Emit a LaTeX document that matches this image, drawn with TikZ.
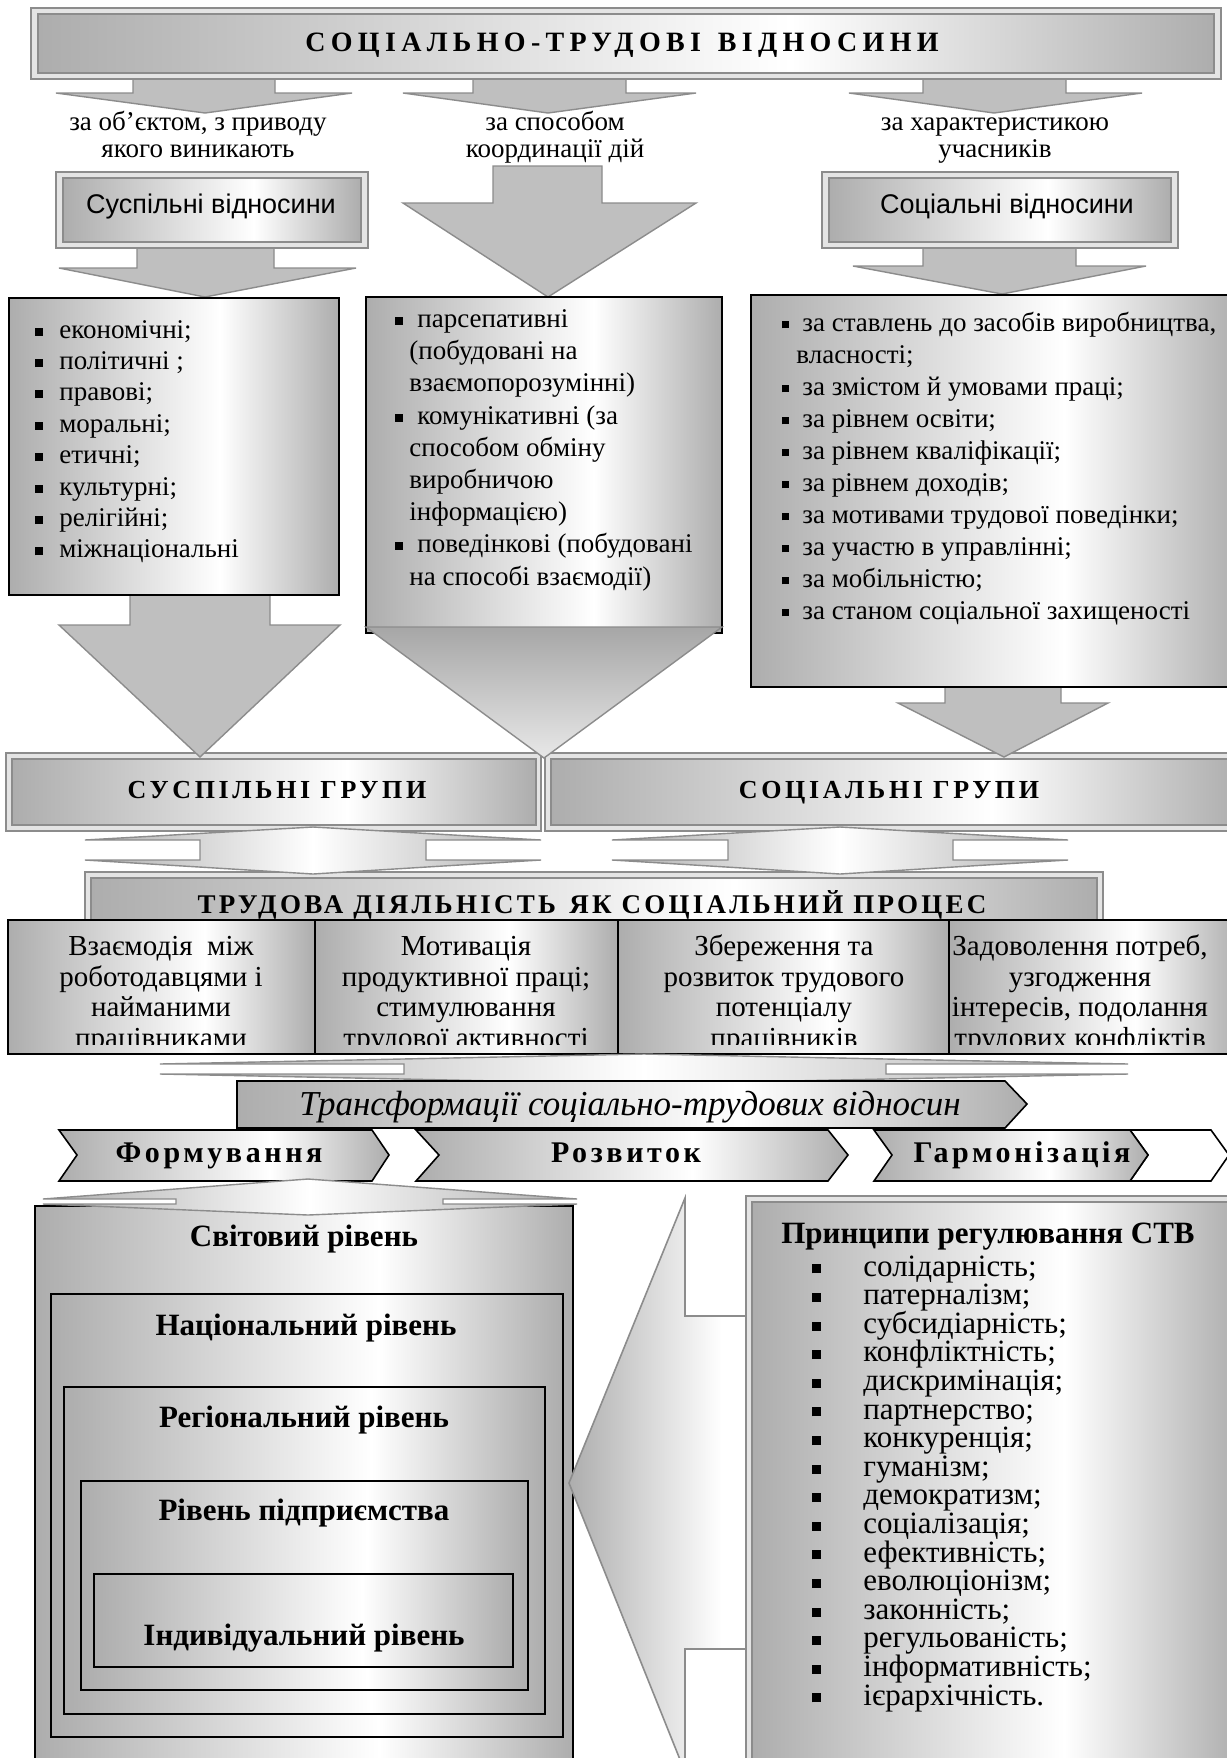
\documentclass[tikz,border=0pt]{standalone}
\usepackage{fontspec}
\setmainfont{Liberation Serif}
\newfontfamily\sansf{Liberation Sans}
\newfontfamily\trkA[LetterSpace=19]{Liberation Serif}
\newfontfamily\trkB[LetterSpace=14]{Liberation Serif}
\newfontfamily\trkC[LetterSpace=12]{Liberation Serif}
\newfontfamily\trkD[LetterSpace=12]{Liberation Serif}
\newcommand\fsz[1]{\fontsize{#1}{#1}\selectfont}
\newcommand\blt[3]{\llap{\rule[#3]{#1}{#1}\hspace{#2}}}
\definecolor{gfill}{HTML}{BFBFBF}
\definecolor{gline}{HTML}{8C8C8C}
\definecolor{gsh}{HTML}{ADADAD}
\definecolor{gband}{HTML}{E4E4E4}
\definecolor{gdark}{HTML}{A6A6A6}
\definecolor{glight}{HTML}{E8E8E8}
\pgfdeclarehorizontalshading{hs}{100bp}{color(0bp)=(gsh); color(25bp)=(gsh); color(57bp)=(white); color(75bp)=(gsh); color(100bp)=(gsh)}
\pgfdeclarehorizontalshading{hsc}{100bp}{color(0bp)=(gsh); color(25bp)=(gsh); color(50bp)=(white); color(75bp)=(gsh); color(100bp)=(gsh)}
\pgfdeclarehorizontalshading{hlr}{100bp}{color(0bp)=(gsh); color(25bp)=(gsh); color(65bp)=(white); color(75bp)=(white); color(100bp)=(white)}
\pgfdeclareverticalshading{vsh}{100bp}{color(0bp)=(glight); color(25bp)=(glight); color(75bp)=(gdark); color(100bp)=(gdark)}
\begin{document}
\begin{tikzpicture}[x=0.5pt,y=-0.5pt,
  txt/.style={inner sep=0pt},
  arr/.style={fill=gfill,draw=gline,line width=0.7pt},
  fro/.style={fill=gband,draw=gline,line width=0.7pt},
  fri/.style={shade,shading=hs,draw=gline,line width=0.7pt},
  bbox/.style={shade,shading=hs,draw=black,line width=1pt},
  dbl/.style={shade,shading=hsc,draw=gline,line width=0.7pt},
  chev/.style={shade,shading=hs,draw=black,line width=0.8pt},
  lab/.style={txt,font=\fsz{13.5},anchor=base},
  lst/.style={txt,font=\fsz{13.5},anchor=base west},
  grp/.style={txt,font=\trkB\bfseries\fsz{13},anchor=base},
  chv/.style={txt,font=\trkD\bfseries\fsz{15},anchor=base},
  lv/.style={txt,font=\bfseries\fsz{15.5},anchor=base},
  pr/.style={txt,font=\fsz{15.5},anchor=base west}]
\useasboundingbox (0,0) rectangle (1227,1758);
\clip (0,0) rectangle (1227,1758);
\fill[white] (0,0) rectangle (1227,1758);

% ---------- top arrows
\draw[arr] (133,72) -- (275,72) -- (275,93) -- (352,93) -- (205,113) -- (56,93) -- (133,93) -- cycle;
\draw[arr] (473,72) -- (626,72) -- (626,93) -- (696,93) -- (548,113) -- (403,93) -- (473,93) -- cycle;
\draw[arr] (923,72) -- (1066,72) -- (1066,93) -- (1142,93) -- (994,113) -- (849,93) -- (923,93) -- cycle;

% ---------- banner
\draw[fro] (31,8) rectangle (1221,79);
\draw[fri] (38,14) rectangle (1214,73);
\node[txt,font=\trkA\bfseries\fsz{14},anchor=base] (title) at (622,51) {СОЦІАЛЬНО-ТРУДОВІ\hspace{0.6em}ВІДНОСИНИ};

% ---------- labels
\node[lab] (la1) at (198,130) {за об’єктом, з приводу};
\node[lab] (la2) at (198,157) {якого виникають};
\node[lab] (lb1) at (555,130) {за способом};
\node[lab] (lb2) at (555,157) {координації дій};
\node[lab] (lc1) at (995,130) {за характеристикою};
\node[lab] (lc2) at (995,157) {учасників};

% ---------- second arrows and sans boxes
\draw[arr] (137,240) -- (274,240) -- (274,268) -- (356,268) -- (205,297) -- (59,268) -- (137,268) -- cycle;
\draw[arr] (493,166) -- (602,166) -- (602,203) -- (696,203) -- (548,297) -- (403,203) -- (493,203) -- cycle;
\draw[arr] (923,240) -- (1076,240) -- (1076,266) -- (1146,266) -- (1002,294) -- (853,266) -- (923,266) -- cycle;
\draw[fro] (56,172) rectangle (368,248);
\draw[fri] (63,178) rectangle (361,242);
\node[txt,font=\sansf\fsz{13.5},anchor=base] (sv) at (211,213) {Суспільні відносини};
\draw[fro] (822,172) rectangle (1178,248);
\draw[fri] (829,178) rectangle (1171,242);
\node[txt,font=\sansf\fsz{13.5},anchor=base] (sov) at (1007,213) {Соціальні відносини};

% ---------- groups frames
\draw[fro] (6,753) rectangle (541,831);
\draw[fri] (12,759) rectangle (536,825);
\draw[fro] (545,753) rectangle (1240,831);
\draw[fri] (551,759) rectangle (1240,825);
\node[grp] (sg) at (277,798) {СУСПІЛЬНІ ГРУПИ};
\node[grp] (socg) at (889,798) {СОЦІАЛЬНІ ГРУПИ};

% ---------- arrows to groups
\draw[arr] (130,590) -- (270,590) -- (270,625) -- (340,625) -- (200,757) -- (59,625) -- (130,625) -- cycle;
\draw[arr] (945,682) -- (1061,682) -- (1061,703) -- (1108,703) -- (1004,757) -- (898,703) -- (945,703) -- cycle;

% ---------- list boxes
\draw[bbox] (9,298) rectangle (339,595);
\draw[bbox] (366,297) rectangle (722,633);
\draw[bbox] (751,295) rectangle (1240,687);
\draw[shade,shading=vsh,draw=gline,line width=0.7pt] (366,627) -- (722,627) -- (544,758) -- cycle;

\foreach \t [count=\i from 0] in {економічні;,політичні ;,правові;,моральні;,етичні;,культурні;,релігійні;,міжнаціональні}
  \node[lst] (ll\i) at (59,{338+31.4*\i}) {\blt{4pt}{8pt}{1.2pt}\t};

\node[lst] (m1) at (417,327) {\blt{4pt}{7pt}{1.2pt}парсепативні};
\node[lst] (m2) at (409,359) {(побудовані на};
\node[lst] (m3) at (409,391) {взаємопорозумінні)};
\node[lst] (m4) at (417,424) {\blt{4pt}{7pt}{1.2pt}комунікативні (за};
\node[lst] (m5) at (409,456) {способом обміну};
\node[lst] (m6) at (409,488) {виробничою};
\node[lst] (m7) at (409,520) {інформацією)};
\node[lst] (m8) at (417,552) {\blt{4pt}{7pt}{1.2pt}поведінкові (побудовані};
\node[lst] (m9) at (409,585) {на способі взаємодії)};

\node[lst] (r1) at (802,331) {\blt{3.5pt}{6.5pt}{1.3pt}за ставлень до засобів виробництва,};
\node[lst] (r2) at (796,363) {власності;};
\foreach \t [count=\i from 2] in {{за змістом й умовами праці;},{за рівнем освіти;},{за рівнем кваліфікації;},{за рівнем доходів;},{за мотивами трудової поведінки;},{за участю в управлінні;},{за мобільністю;},{за станом соціальної захищеності}}
  \node[lst] (rr\i) at (802,{331+32*\i}) {\blt{3.5pt}{6.5pt}{1.3pt}\t};

% ---------- labour activity frame
\draw[fro] (85,872) rectangle (1103,935);
\draw[fri] (91,878) rectangle (1097,935);
\node[txt,font=\trkC\bfseries\fsz{13.5},anchor=base] (tda) at (592,913) {ТРУДОВА ДІЯЛЬНІСТЬ\hspace{0.5em}ЯК СОЦІАЛЬНИЙ ПРОЦЕС};

% ---------- up-down arrows
\draw[dbl] (313,827) -- (541,840) -- (426,840) -- (426,860) -- (541,860) -- (313,874) -- (85,860) -- (200,860) -- (200,840) -- (85,840) -- cycle;
\draw[dbl] (840,827) -- (1068,840) -- (953,840) -- (953,860) -- (1068,860) -- (840,874) -- (612,860) -- (728,860) -- (728,840) -- (612,840) -- cycle;

% ---------- four boxes
\draw[bbox] (8,920) rectangle (315,1054);
\draw[bbox] (315,920) rectangle (618,1054);
\draw[bbox] (618,920) rectangle (949,1054);
\draw[bbox] (949,920) rectangle (1240,1054);
\begin{scope}
\clip (8,921) rectangle (1240,1044);
\foreach \a/\b/\c/\d/\x [count=\k] in {{Взаємодія\ \ між}/{роботодавцями і}/{найманими}/{працівниками}/161,
  {Мотивація}/{продуктивної праці;}/{стимулювання}/{трудової активності}/466,
  {Збереження та}/{розвиток трудового}/{потенціалу}/{працівників}/784,
  {Задоволення потреб,}/{узгодження}/{інтересів, подолання}/{трудових конфліктів}/1080}{
  \node[txt,font=\fsz{14.5},anchor=base] (q\k a) at (\x,955) {\a};
  \node[txt,font=\fsz{14.5},anchor=base] (q\k b) at (\x,986) {\b};
  \node[txt,font=\fsz{14.5},anchor=base] (q\k c) at (\x,1016) {\c};
  \node[txt,font=\fsz{14.5},anchor=base] (q\k d) at (\x,1047) {\d};
}
\end{scope}

% ---------- flat arrow above transformations
\draw[dbl] (644,1054) -- (1128,1064) -- (886,1064) -- (886,1074) -- (1128,1074) -- (644,1084) -- (160,1074) -- (404,1074) -- (404,1064) -- (160,1064) -- cycle;

% ---------- transformations
\draw[chev] (237,1081) -- (1005,1081) -- (1027,1104) -- (1005,1128) -- (237,1128) -- cycle;
\node[txt,font=\itshape\fsz{17.5},anchor=base] (trf) at (630,1115) {Трансформації соціально-трудових відносин};

% ---------- chevrons
\draw[fill=white,draw=black,line width=0.8pt] (1130,1130) -- (1211,1130) -- (1229,1155) -- (1211,1181) -- (1130,1181) -- (1148,1155) -- cycle;
\draw[chev] (874,1130) -- (1130,1130) -- (1148,1155) -- (1130,1181) -- (874,1181) -- (892,1155) -- cycle;
\draw[chev] (416,1130) -- (828,1130) -- (848,1155) -- (828,1181) -- (416,1181) -- (439,1155) -- cycle;
\draw[chev] (59,1130) -- (372,1130) -- (389,1155) -- (372,1181) -- (59,1181) -- (77,1155) -- cycle;
\node[chv] (fo) at (219,1162) {Формування};
\node[chv] (ro) at (626,1162) {Розвиток};
\node[chv] (ha) at (1022,1162) {Гармонізація};

% ---------- levels
\draw[bbox] (35,1206) rectangle (573,1790);
\draw[bbox] (51,1294) rectangle (563,1737);
\draw[bbox] (64,1387) rectangle (545,1714);
\draw[bbox] (81,1481) rectangle (528,1690);
\draw[bbox] (94,1574) rectangle (513,1667);
\node[lv] (v1) at (304,1246) {Світовий рівень};
\node[lv] (v2) at (306,1335) {Національний рівень};
\node[lv] (v3) at (304,1427) {Регіональний рівень};
\node[lv] (v4) at (304,1520) {Рівень підприємства};
\node[lv] (v5) at (304,1645) {Індивідуальний рівень};

% ---------- flat arrow below chevrons
\draw[dbl] (308,1179) -- (577,1199) -- (443,1199) -- (443,1204) -- (577,1204) -- (308,1215) -- (43,1204) -- (176,1204) -- (176,1199) -- (43,1199) -- cycle;

% ---------- big left arrow and principles
\draw[shade,shading=hlr,draw=gline,line width=0.8pt] (569,1483) -- (685,1198) -- (685,1316) -- (760,1316) -- (760,1649) -- (685,1649) -- (685,1772) -- cycle;
\draw[fro] (746,1196) rectangle (1240,1790);
\draw[fri] (752,1202) rectangle (1240,1790);
\node[lv] (pt) at (988,1243) {Принципи регулювання СТВ};
\foreach \t [count=\i from 0] in {солідарність;,патерналізм;,субсидіарність;,конфліктність;,дискримінація;,партнерство;,конкуренція;,гуманізм;,демократизм;,соціалізація;,ефективність;,еволюціонізм;,законність;,регульованість;,інформативність;,ієрархічність.}
  \node[pr] (p\i) at (863,{1276+28.6*\i}) {\blt{4.5pt}{21pt}{1.3pt}\t};
\end{tikzpicture}
\end{document}
